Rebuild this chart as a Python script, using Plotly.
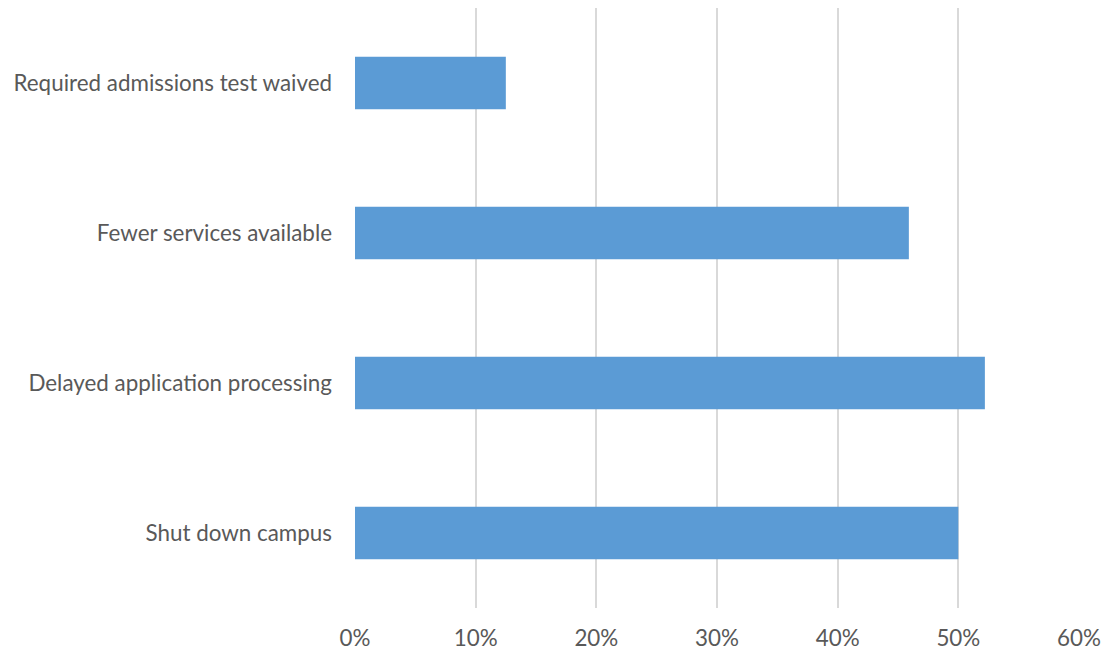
import plotly.graph_objects as go

categories = ["Shut down campus", "Delayed application processing", "Fewer services available", "Required admissions test waived"]
values = [0.50, 0.522, 0.459, 0.125]
tick_vals = [0, 0.1, 0.2, 0.3, 0.4, 0.5, 0.6]
tick_text = ["0%", "10%", "20%", "30%", "40%", "50%", "60%"]

fig = go.Figure(go.Bar(
    y=categories, x=values, orientation="h",
    marker=dict(color="#5b9bd5", line=dict(width=0)),
    width=0.35,
    hoverinfo="skip",
))

fig.update_layout(
    width=1103, height=650,
    margin=dict(l=355, r=24, t=8, b=42),
    paper_bgcolor="white", plot_bgcolor="white",
    font=dict(family="Lato", size=22.4, color="#595959"),
    showlegend=False,
    xaxis=dict(range=[0, 0.6], tickvals=tick_vals, ticktext=tick_text,
               showgrid=True, gridcolor="#d9d9d9", gridwidth=1.5,
               zeroline=False, showline=False, ticks="", ticklabelstandoff=15,
               automargin=False, fixedrange=True),
    yaxis=dict(showgrid=False, zeroline=False, showline=False, ticks="",
               ticklabelstandoff=22, categoryorder="array", categoryarray=categories,
               range=[-0.5, 3.5], automargin=False, fixedrange=True),
)

fig.write_html("out.html", config={"displayModeBar": False},
               post_script="document.body.style.margin='0';document.body.style.overflow='hidden';")
